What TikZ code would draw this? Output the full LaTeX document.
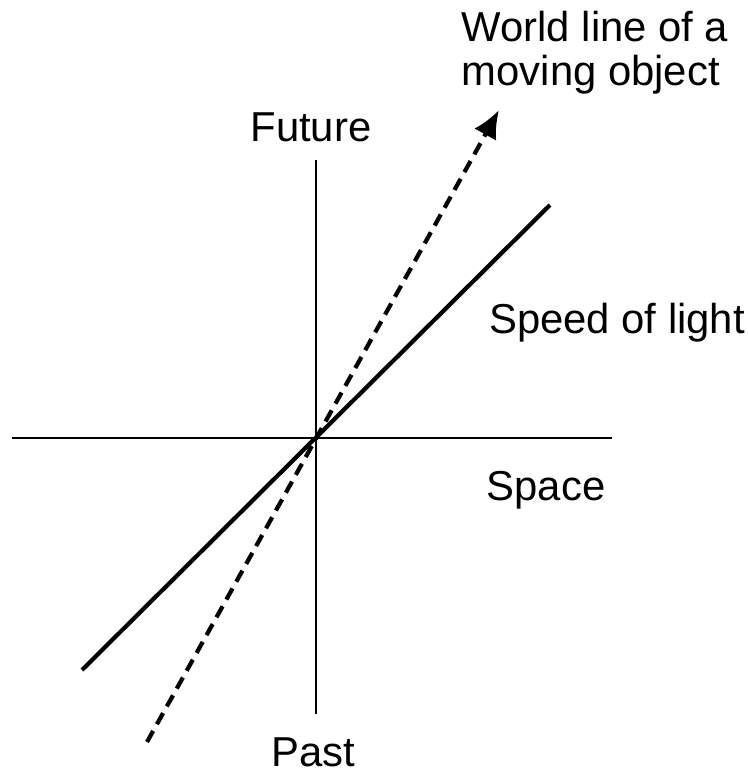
\documentclass[tikz,border=0pt]{standalone}
\usepackage{fontspec}
\setmainfont{Liberation Sans}
\usetikzlibrary{arrows.meta,positioning}

\begin{document}
\begin{tikzpicture}[
  axis/.style={line width=0.7pt},
  light/.style={line width=1.2pt},
  worldline/.style={line width=1.2pt,dash pattern=on 3.6pt off 2.2pt,-{Latex[length=2.8mm,width=2.5mm]}},
  lbl/.style={font=\fontsize{11.9}{12.6}\selectfont,inner sep=0pt}
]
\useasboundingbox (0,0) rectangle (7.48,7.70);
\coordinate (O) at (3.16,3.32);
\coordinate (ytop) at (3.16,6.10);
\coordinate (ybot) at (3.16,0.56);
\coordinate (xleft) at (0.12,3.32);
\coordinate (xright) at (6.12,3.32);
\coordinate (lightlo) at (0.82,1.00);
\coordinate (lighthi) at (5.50,5.65);
\coordinate (wlo) at (1.47,0.28);
\coordinate (whi) at (4.99,6.60);
% axes
\draw[axis] (ybot) -- (ytop);
\draw[axis] (xleft) -- (xright);
% light and world line
\draw[light] (lightlo) -- (lighthi);
\draw[worldline] (wlo) -- (whi);
% labels
\node[lbl] (future) at (3.11,6.43) {Future};
\node[lbl] (past) at (3.13,0.18) {Past};
\node[lbl] (space) at (5.46,2.80) {Space};
\node[lbl] (speed) at (6.17,4.47) {Speed of light};
\node[lbl,align=left] (wl) at (5.95,7.17) {World line of a\\moving object};
\end{tikzpicture}
\end{document}
